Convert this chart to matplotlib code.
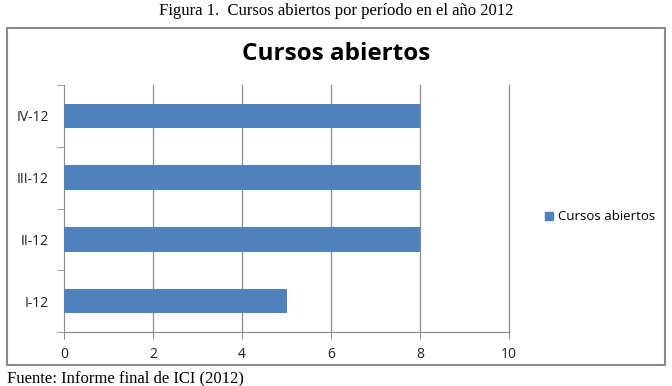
import matplotlib.pyplot as plt
import matplotlib.patches as mpatches
import numpy as np

periodos = ['I-12', 'II-12', 'III-12', 'IV-12']
cursos = [5, 8, 8, 8]
xticks = [0, 2, 4, 6, 8, 10]

W, H = 672, 386
fig = plt.figure(figsize=(W / 100, H / 100), dpi=100)

def px(x0, y0, x1, y1):
    # pixel box (top-left origin) -> figure fraction
    return [x0 / W, 1 - y1 / H, (x1 - x0) / W, (y1 - y0) / H]

# outer chart frame
frame = mpatches.Rectangle((7 / W, 1 - 365 / H), 658 / W, 337 / H,
                           transform=fig.transFigure, fill=False,
                           edgecolor='#8c8c8c', linewidth=1.5)
fig.patches.append(frame)

fig.text(0.5, 1 - 11 / H, 'Figura 1.  Cursos abiertos por período en el año 2012',
         ha='center', va='center', family='Liberation Serif', fontsize=12)
fig.text(7 / W, 1 - 378 / H, 'Fuente: Informe final de ICI (2012)',
         ha='left', va='center', family='Liberation Serif', fontsize=12)
fig.text(336 / W, 1 - 54 / H, 'Cursos abiertos', ha='center', va='center',
         family='Open Sans', fontweight='bold', fontsize=17.5)

ax = fig.add_axes(px(64, 85, 509, 332))
y = np.arange(len(periodos))
ax.barh(y, cursos, height=0.4, color='#4F81BD', zorder=3)
ax.set_xlim(0, 10)
ax.set_ylim(-0.5, len(periodos) - 0.5)
ax.set_xticks(xticks)
ax.set_xticklabels([str(t) for t in xticks])
ax.set_yticks(y)
ax.set_yticklabels(periodos)
ax.set_yticks(np.arange(-0.5, len(periodos)), minor=True)
ax.tick_params(axis='y', which='major', length=0, pad=11)
ax.tick_params(axis='y', which='minor', length=5, color='#8c8c8c', direction='out')
ax.tick_params(axis='x', length=5, color='#8c8c8c', direction='out', pad=6)
for lab in ax.get_xticklabels() + ax.get_yticklabels():
    lab.set_family('Open Sans')
    lab.set_fontsize(10)
    lab.set_color('#222222')
for t in xticks[1:]:
    ax.axvline(t, color='#8c8c8c', linewidth=0.9, zorder=0, clip_on=False)
for s in ['top', 'right']:
    ax.spines[s].set_visible(False)
for s in ['left', 'bottom']:
    ax.spines[s].set_color('#8c8c8c')

handle = mpatches.Patch(color='#4F81BD', label='Cursos abiertos')
fig.legend(handles=[handle], loc='center left', bbox_to_anchor=(533 / W, 1 - 217 / H),
           frameon=False, handlelength=0.6, handleheight=0.6, handletextpad=0.4,
           prop={'family': 'Open Sans', 'size': 9.5})

fig.savefig('out.png', dpi=100)
